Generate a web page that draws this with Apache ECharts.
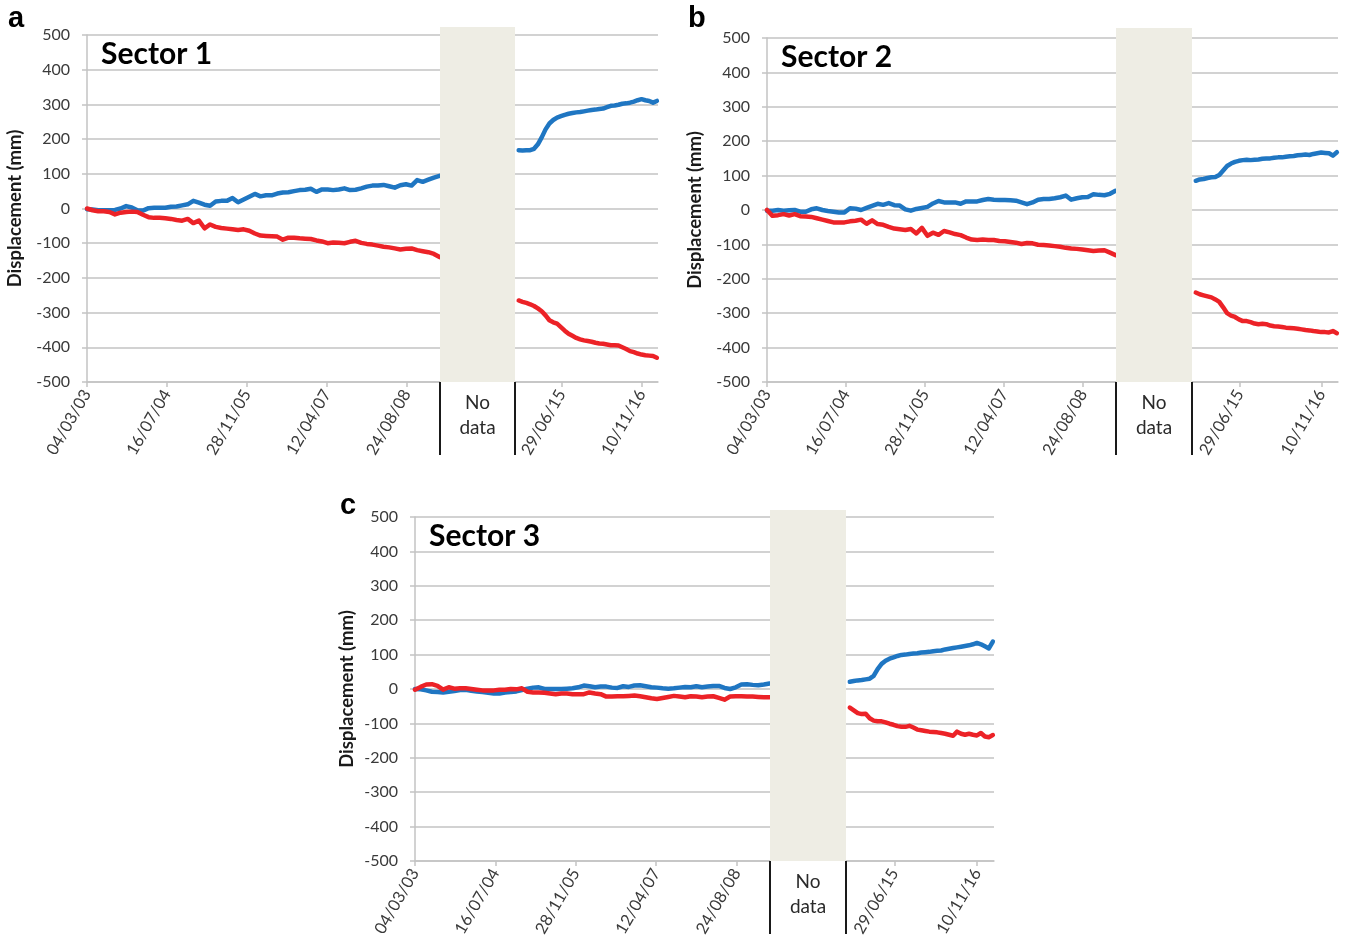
<!DOCTYPE html>
<html>
<head>
<meta charset="utf-8">
<script src="https://cdn.jsdelivr.net/npm/echarts@6/dist/echarts.min.js"></script>
<style>
  html, body { margin: 0; padding: 0; background: #ffffff; }
  #chart { width: 1346px; height: 942px; }
</style>
</head>
<body>
<div id="chart"></div>
<script>
// ---- acquisition dates -------------------------------------------------
// ENVISAT period (2003-2009)
const envisatDates = [
  '2003-03-04','2003-04-08','2003-05-13','2003-06-17','2003-07-22','2003-08-26','2003-09-30','2003-11-04','2003-12-09',
  '2004-01-13','2004-02-17','2004-03-23','2004-04-27','2004-06-01','2004-07-06','2004-08-10','2004-09-14','2004-10-19','2004-11-23','2004-12-28',
  '2005-02-01','2005-03-08','2005-04-12','2005-05-17','2005-06-21','2005-07-26','2005-08-30','2005-10-04','2005-11-08','2005-12-13',
  '2006-01-17','2006-02-21','2006-03-28','2006-05-02','2006-06-06','2006-07-11','2006-08-15','2006-09-19','2006-10-24','2006-11-28',
  '2007-01-02','2007-02-06','2007-03-13','2007-04-17','2007-05-22','2007-06-26','2007-07-31','2007-09-04','2007-10-09','2007-11-13','2007-12-18',
  '2008-01-22','2008-02-26','2008-04-01','2008-05-06','2008-06-10','2008-07-15','2008-08-19','2008-09-23','2008-10-28','2008-12-02',
  '2009-01-06','2009-02-10','2009-03-17'
];
// Sentinel-1 period (2014-2017)
const sentinelDates = [
  '2014-10-03','2014-10-27','2014-11-20','2014-12-14',
  '2015-01-07','2015-01-31','2015-02-24','2015-03-20','2015-04-13','2015-05-07','2015-05-31','2015-06-24','2015-07-18','2015-08-11',
  '2015-09-04','2015-09-28','2015-10-22','2015-11-15','2015-12-09',
  '2016-01-02','2016-01-26','2016-02-19','2016-03-14','2016-04-07','2016-05-01','2016-05-25','2016-06-18','2016-07-12','2016-08-05',
  '2016-08-29','2016-09-22','2016-10-16','2016-11-09','2016-12-03','2016-12-27',
  '2017-01-20','2017-02-13'
];

// ---- displacement values (mm) ------------------------------------------
// Sector 1
const s1EnvBlue = [-2,-3,-5,-5,-5,-4,0,7,3,-5,-6,1,2,2,2,5,6,9,12,22,17,11,8,20,22,22,30,18,26,34,42,35,38,38,43,46,47,50,53,54,57,48,55,55,53,55,58,53,54,58,63,66,66,68,64,60,67,70,66,82,77,83,89,94];
const s1EnvRed  = [0,-5,-8,-8,-10,-17,-12,-10,-9,-10,-18,-25,-27,-27,-28,-30,-33,-35,-30,-42,-35,-57,-46,-53,-56,-58,-60,-62,-60,-64,-72,-78,-79,-80,-81,-90,-84,-84,-86,-87,-88,-92,-95,-100,-98,-99,-100,-96,-93,-99,-102,-104,-107,-110,-112,-115,-118,-116,-115,-120,-123,-126,-131,-140];
const s1SenBlue = [168,167,168,168,172,185,205,228,245,255,262,266,270,273,275,277,278,280,282,284,285,287,288,292,296,297,299,302,303,305,308,312,315,312,310,305,310];
const s1SenRed  = [-265,-269,-272,-276,-281,-288,-296,-308,-322,-328,-332,-342,-352,-361,-367,-373,-377,-380,-382,-384,-387,-389,-390,-392,-394,-394,-395,-400,-405,-411,-414,-418,-421,-423,-424,-425,-430];
// Sector 2
const s2EnvBlue = [-2,-2,0,-2,-1,0,-5,-5,2,5,0,-3,-5,-7,-7,5,4,0,6,12,18,15,20,14,13,2,-2,3,6,9,19,26,22,22,22,18,25,25,25,29,32,30,29,29,28,27,22,17,22,30,32,32,34,37,42,30,34,37,38,46,44,43,47,56];
const s2EnvRed  = [0,-17,-15,-12,-16,-12,-18,-19,-20,-24,-28,-32,-36,-36,-36,-33,-31,-28,-40,-30,-41,-43,-49,-54,-56,-58,-55,-68,-52,-75,-66,-72,-61,-65,-70,-73,-80,-86,-87,-86,-87,-87,-90,-91,-93,-95,-99,-96,-97,-101,-102,-103,-105,-107,-110,-112,-113,-115,-117,-119,-118,-117,-124,-131];
const s2SenBlue = [85,89,90,93,95,96,102,115,128,135,140,143,145,146,145,146,147,149,150,150,152,153,153,155,156,157,159,160,161,160,163,165,167,166,165,158,168];
const s2SenRed  = [-240,-245,-248,-251,-254,-260,-267,-283,-300,-307,-311,-318,-323,-323,-326,-330,-332,-331,-332,-336,-338,-339,-340,-342,-343,-344,-345,-347,-349,-350,-352,-353,-355,-355,-356,-352,-358];
// Sector 3
const s3EnvBlue = [0,-1,-4,-8,-9,-10,-8,-6,-3,-2,-5,-7,-9,-11,-13,-13,-10,-9,-7,-3,1,4,5,0,0,0,0,1,2,5,10,8,5,7,7,4,3,8,6,10,11,8,5,4,2,1,2,4,6,5,8,5,7,9,9,3,0,5,13,14,12,11,13,16];
const s3EnvRed  = [-2,6,13,14,9,-2,5,1,2,2,0,-2,-4,-4,-4,-2,-2,0,-1,2,-8,-10,-10,-11,-13,-15,-13,-13,-15,-15,-15,-10,-13,-15,-22,-22,-21,-21,-20,-19,-21,-24,-27,-29,-26,-23,-20,-22,-24,-21,-22,-24,-22,-21,-26,-31,-22,-21,-21,-22,-22,-23,-24,-24];
const s3SenBlue = [21,23,25,26,28,30,38,58,73,82,88,92,96,99,100,102,103,104,106,107,108,110,111,112,115,117,119,121,123,125,127,130,134,130,124,118,138];
const s3SenRed  = [-54,-62,-70,-73,-72,-85,-92,-94,-94,-97,-101,-104,-108,-110,-110,-107,-112,-118,-120,-122,-124,-125,-126,-128,-130,-133,-136,-124,-130,-133,-130,-133,-135,-128,-138,-140,-134];

// ---- axis ticks and ranges ---------------------------------------------
const envisatTickLabels  = ['04/03/03', '16/07/04', '28/11/05', '12/04/07', '24/08/08'];
const sentinelTickLabels = ['29/06/15', '10/11/16'];
const envisatRange  = ['2003-03-04', '2009-03-20'];
const sentinelRange = ['2014-09-10', '2017-02-20'];
const yMin = -500, yMax = 500, yStep = 100;
const sectorTitles = ['Sector 1', 'Sector 2', 'Sector 3'];
const panelLetters = ['a', 'b', 'c'];
const yAxisTitle = 'Displacement (mm)';
const gapText = 'No\ndata';

// ---- helpers ------------------------------------------------------------
const isoToTime = s => { const [y, m, d] = s.split('-').map(Number); return Date.UTC(y, m - 1, d); };
const dmyToTime = s => { const [d, m, y] = s.split('/').map(Number); return Date.UTC(2000 + y, m - 1, d); };
const pad2 = n => String(n).padStart(2, '0');
const timeToDmy = t => { const dt = new Date(t); return pad2(dt.getUTCDate()) + '/' + pad2(dt.getUTCMonth() + 1) + '/' + pad2(dt.getUTCFullYear() % 100); };
const pairUp = (dates, vals) => dates.map((d, i) => [isoToTime(d), vals[i]]);

// ---- styling ------------------------------------------------------------
const FONT = 'Lato, "Open Sans", sans-serif';
const GRID_COLOR = '#c3c3c3';
const LABEL_COLOR = '#3a3a3a';
const BLUE = '#1f76c2';
const RED = '#ec2227';
const BAND_COLOR = '#eeede4';

// panel layout (pixels)
const panels = [
  { left: { x: 87,  w: 353 }, right: { x: 515,  w: 143 }, top: 35,  height: 347, bandTop: 27,  nameGap: 62, letter: [8, 19],    blue: [s1EnvBlue, s1SenBlue], red: [s1EnvRed, s1SenRed] },
  { left: { x: 767, w: 349 }, right: { x: 1192, w: 146 }, top: 38,  height: 344, bandTop: 28,  nameGap: 62, letter: [688, 19],  blue: [s2EnvBlue, s2SenBlue], red: [s2EnvRed, s2SenRed] },
  { left: { x: 415, w: 355 }, right: { x: 846,  w: 148 }, top: 517, height: 344, bandTop: 510, nameGap: 58, letter: [340, 506], blue: [s3EnvBlue, s3SenBlue], red: [s3EnvRed, s3SenRed] }
];

const grids = [], xAxes = [], yAxes = [], series = [], graphics = [];

panels.forEach((p, pi) => {
  [p.left, p.right].forEach((seg, si) => {
    const gi = grids.length;
    const isLeft = si === 0;
    const range = isLeft ? envisatRange : sentinelRange;
    const ticks = (isLeft ? envisatTickLabels : sentinelTickLabels).map(dmyToTime);
    const dates = isLeft ? envisatDates : sentinelDates;

    grids.push({ left: seg.x, top: p.top, width: seg.w, height: p.height, containLabel: false, outerBoundsMode: 'none' });

    xAxes.push({
      type: 'value', gridIndex: gi,
      min: isoToTime(range[0]), max: isoToTime(range[1]),
      axisLine: { show: true, onZero: false, lineStyle: { color: GRID_COLOR, width: 1.5 } },
      axisTick: { show: true, customValues: ticks, length: 5, lineStyle: { color: GRID_COLOR, width: 1.5 } },
      axisLabel: {
        show: true, customValues: ticks, rotate: 60, margin: 9,
        fontFamily: FONT, fontSize: 16.5, color: LABEL_COLOR,
        formatter: v => timeToDmy(v)
      },
      splitLine: { show: false }
    });

    yAxes.push({
      type: 'value', gridIndex: gi, min: yMin, max: yMax, interval: yStep,
      name: isLeft ? yAxisTitle : '', nameLocation: 'middle', nameGap: p.nameGap,
      nameTextStyle: { fontFamily: FONT, fontWeight: 'bold', fontSize: 18.5, color: '#1a1a1a' },
      axisLine: { show: isLeft, onZero: false, lineStyle: { color: GRID_COLOR, width: 1.5 } },
      axisTick: { show: isLeft, length: 5, lineStyle: { color: GRID_COLOR, width: 1.5 } },
      axisLabel: { show: isLeft, margin: 17, fontFamily: FONT, fontSize: 16, color: LABEL_COLOR },
      splitLine: { show: true, lineStyle: { color: GRID_COLOR, width: 1.5 } }
    });

    [[p.blue[si], BLUE], [p.red[si], RED]].forEach(([vals, color]) => {
      series.push({
        type: 'line', xAxisIndex: gi, yAxisIndex: gi,
        data: pairUp(dates, vals),
        showSymbol: false, symbol: 'none', silent: true,
        lineStyle: { color: color, width: 4.5, join: 'round', cap: 'round' },
        itemStyle: { color: color }
      });
    });
  });

  // shaded "no data" gap between the two periods
  const gapL = p.left.x + p.left.w;
  const gapR = p.right.x;
  const bottom = p.top + p.height;
  graphics.push({
    type: 'rect', z: 5, silent: true,
    shape: { x: gapL, y: p.bandTop, width: gapR - gapL, height: bottom - p.bandTop },
    style: { fill: BAND_COLOR }
  });
  [gapL, gapR].forEach(x => graphics.push({
    type: 'line', z: 6, silent: true,
    shape: { x1: x, y1: bottom, x2: x, y2: bottom + 73 },
    style: { stroke: '#1a1a1a', lineWidth: 2 }
  }));
  graphics.push({
    type: 'text', z: 6, silent: true,
    x: (gapL + gapR) / 2, y: bottom + 8,
    style: { text: gapText, font: '19px ' + FONT, fill: '#2a2a2a', align: 'center', verticalAlign: 'top', lineHeight: 25 }
  });
  // sector title inside the plot
  graphics.push({
    type: 'text', z: 6, silent: true,
    x: p.left.x + 14, y: p.top + 19,
    style: { text: sectorTitles[pi], font: 'bold 30px ' + FONT, fill: '#000000', align: 'left', verticalAlign: 'middle' }
  });
  // panel letter
  graphics.push({
    type: 'text', z: 6, silent: true,
    x: p.letter[0], y: p.letter[1],
    style: { text: panelLetters[pi], font: 'bold 29px "Liberation Sans", Arial, sans-serif', fill: '#000000', align: 'left', verticalAlign: 'middle' }
  });
});

const chart = echarts.init(document.getElementById('chart'), null, { renderer: 'canvas', width: 1346, height: 942 });
chart.setOption({
  animation: false,
  backgroundColor: '#ffffff',
  grid: grids,
  xAxis: xAxes,
  yAxis: yAxes,
  series: series,
  graphic: { elements: graphics }
});
</script>
</body>
</html>
